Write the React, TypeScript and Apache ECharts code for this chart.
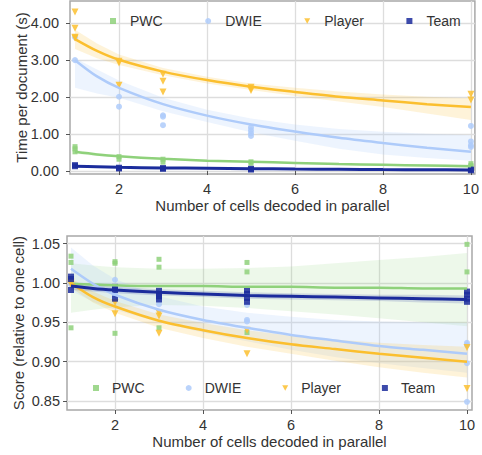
import React, { useEffect, useRef } from "react";
import * as echarts from "echarts";

const FONT = "'Liberation Sans', Arial, Helvetica, sans-serif";

const names = ["PWC", "DWIE", "Player", "Team"];
const colors = ["#8fd17b", "#aecbfa", "#fbbf2f", "#1b2c9c"];
const bandColors = [
  "rgba(143,209,123,0.16)",
  "rgba(174,203,250,0.22)",
  "rgba(251,191,47,0.18)",
  "rgba(27,44,156,0.16)",
];
const legendIcons = ["rect", "circle", "path://M0,0 L10,0 L5,9 Z", "rect"];

const xTicks = [2, 4, 6, 8, 10];
const topYTicks = [0, 1, 2, 3, 4];
const bottomYTicks = [0.85, 0.9, 0.95, 1.0, 1.05];

const ptsX = [1, 2, 3, 5, 10];
const fitX = [1, 1.5, 2, 3, 4, 5, 6, 7, 8, 9, 10];

// ---- Top panel: time per document ----
const topPwcPts = [[0.66, 0.6, 0.52], [0.39, 0.32], [0.32, 0.24], [0.25, 0.21], [0.2, 0.15, 0.12]];
const topDwiePts = [[3.62, 3.0], [2.01, 1.74], [1.51, 1.47, 1.24], [1.18, 1.1, 1.02, 0.95], [1.22, 0.8, 0.7, 0.65]];
const topPlayerPts = [[4.3, 3.86, 3.62, 3.6], [2.97, 2.92, 2.32], [2.62, 2.43, 2.14], [2.27, 2.22, 2.18], [2.08, 1.92]];
const topTeamPts = [[0.16, 0.13], [0.09, 0.07], [0.08, 0.06], [0.06, 0.04], [0.04, 0.02]];

const topPwcFit = [0.52, 0.45, 0.4, 0.33, 0.28, 0.25, 0.22, 0.19, 0.17, 0.15, 0.13];
const topPwcHi = [0.57, 0.49, 0.43, 0.355, 0.305, 0.275, 0.245, 0.22, 0.2, 0.185, 0.17];
const topPwcLo = [0.47, 0.41, 0.37, 0.305, 0.255, 0.225, 0.195, 0.16, 0.14, 0.115, 0.09];
const topDwieFit = [3.0, 2.56, 2.25, 1.81, 1.5, 1.26, 1.07, 0.9, 0.76, 0.63, 0.52];
const topDwieHi = [3.05, 2.75, 2.45, 1.98, 1.66, 1.42, 1.26, 1.14, 1.06, 1.01, 0.97];
const topDwieLo = [2.25, 2.1, 1.98, 1.62, 1.33, 1.05, 0.82, 0.6, 0.45, 0.35, 0.28];
const topPlayerFit = [3.57, 3.25, 3.01, 2.69, 2.46, 2.28, 2.14, 2.01, 1.91, 1.81, 1.73];
const topPlayerHi = [3.82, 3.45, 3.15, 2.79, 2.55, 2.37, 2.25, 2.15, 2.07, 2.01, 1.97];
const topPlayerLo = [3.3, 3.05, 2.87, 2.59, 2.37, 2.19, 2.03, 1.88, 1.73, 1.56, 1.38];
const topTeamFit = [0.13, 0.115, 0.1, 0.085, 0.075, 0.065, 0.055, 0.048, 0.04, 0.035, 0.03];
const topTeamHi = [0.15, 0.13, 0.113, 0.097, 0.087, 0.077, 0.068, 0.062, 0.055, 0.051, 0.048];
const topTeamLo = [0.11, 0.1, 0.087, 0.073, 0.063, 0.053, 0.042, 0.034, 0.025, 0.019, 0.012];

// ---- Bottom panel: relative score ----
const botPwcPts = [[1.034, 1.026, 0.943], [1.027, 1.025, 0.936], [1.03, 1.02, 0.943], [1.026, 1.014, 0.937], [1.049, 1.014]];
const botDwiePts = [[1.003, 0.998], [1.004, 0.985], [0.98, 0.973], [0.972, 0.953, 0.951], [0.924, 0.921, 0.898, 0.849]];
const botPlayerPts = [[1.001, 0.998], [0.975, 0.961], [0.962, 0.958, 0.936], [0.94, 0.91], [0.918, 0.866]];
const botTeamPts = [[1.008, 1.005, 0.991], [0.995, 0.991, 0.98], [0.99, 0.986, 0.983, 0.979], [0.991, 0.986, 0.981, 0.976], [0.989, 0.985, 0.98, 0.976]];

const botPwcFit = [0.999, 0.998, 0.997, 0.996, 0.996, 0.995, 0.995, 0.994, 0.994, 0.993, 0.993];
const botPwcHi = [1.025, 1.022, 1.02, 1.018, 1.018, 1.019, 1.021, 1.025, 1.029, 1.033, 1.038];
const botPwcLo = [0.962, 0.966, 0.969, 0.972, 0.971, 0.968, 0.964, 0.96, 0.955, 0.95, 0.945];
const botDwieFit = [1.018, 0.999, 0.985, 0.966, 0.953, 0.943, 0.934, 0.927, 0.92, 0.915, 0.91];
const botDwieHi = [1.045, 1.022, 1.005, 0.983, 0.97, 0.962, 0.957, 0.953, 0.951, 0.95, 0.949];
const botDwieLo = [0.99, 0.976, 0.966, 0.95, 0.937, 0.926, 0.915, 0.906, 0.898, 0.892, 0.886];
const botPlayerFit = [1.0, 0.982, 0.97, 0.952, 0.94, 0.93, 0.922, 0.916, 0.91, 0.905, 0.9];
const botPlayerHi = [1.006, 0.989, 0.977, 0.96, 0.949, 0.94, 0.933, 0.928, 0.924, 0.921, 0.919];
const botPlayerLo = [0.994, 0.975, 0.962, 0.943, 0.93, 0.919, 0.91, 0.901, 0.893, 0.886, 0.88];
const botTeamFit = [0.996, 0.993, 0.991, 0.988, 0.986, 0.984, 0.983, 0.982, 0.981, 0.98, 0.979];
const botTeamHi = [1.001, 0.997, 0.995, 0.992, 0.99, 0.988, 0.987, 0.986, 0.985, 0.985, 0.984];
const botTeamLo = [0.991, 0.989, 0.987, 0.984, 0.982, 0.98, 0.979, 0.978, 0.977, 0.975, 0.974];

const symbols = ["rect", "circle", "triangle", "rect"];
const symbolSizes = [5, 6, 7, 6];
const symbolRot = [0, 0, 180, 0];

function flatten(pts: number[][]) {
  const out: number[][] = [];
  pts.forEach((ys, i) => ys.forEach((y) => out.push([ptsX[i], y])));
  return out;
}

function zip(ys: number[]) {
  return fitX.map((x, i) => [x, ys[i]]);
}

function bandSeries(idx: number, gi: number, lo: number[], hi: number[]) {
  return {
    type: "custom",
    name: names[idx] + " band " + gi,
    xAxisIndex: gi,
    yAxisIndex: gi,
    silent: true,
    z: 1,
    data: [[fitX[0], lo[0]]],
    renderItem: (_params: any, api: any) => {
      const pts: number[][] = [];
      for (let i = 0; i < fitX.length; i++) pts.push(api.coord([fitX[i], hi[i]]));
      for (let i = fitX.length - 1; i >= 0; i--) pts.push(api.coord([fitX[i], lo[i]]));
      return {
        type: "polygon",
        shape: { points: pts },
        style: { fill: bandColors[idx], stroke: "none" },
      };
    },
  };
}

function scatterSeries(idx: number, gi: number, pts: number[][]) {
  return {
    type: "scatter",
    name: names[idx],
    xAxisIndex: gi,
    yAxisIndex: gi,
    symbol: symbols[idx],
    symbolSize: symbolSizes[idx],
    symbolRotate: symbolRot[idx],
    itemStyle: { color: colors[idx], opacity: 0.85 },
    z: 2,
    data: flatten(pts),
  };
}

function fitSeries(idx: number, gi: number, ys: number[]) {
  return {
    type: "line",
    name: names[idx] + " fit " + gi,
    xAxisIndex: gi,
    yAxisIndex: gi,
    showSymbol: false,
    symbol: "none",
    smooth: 0.3,
    lineStyle: { color: colors[idx], width: idx === 3 ? 3 : 2.5 },
    z: 3 + idx * 0.1,
    silent: true,
    data: zip(ys),
  };
}

const axisLabelStyle = { color: "#333", fontSize: 14.5, fontFamily: FONT };
const nameStyle = { color: "#333", fontSize: 15, fontFamily: FONT };

function xAxis(gi: number, min: number, max: number) {
  return {
    type: "value",
    gridIndex: gi,
    min,
    max,
    name: "Number of cells decoded in parallel",
    nameLocation: "middle",
    nameGap: 24,
    nameMoveOverlap: false,
    nameTextStyle: nameStyle,
    axisLine: { show: false },
    axisTick: { show: true, length: 4, customValues: xTicks, lineStyle: { color: "#555", width: 1 } },
    axisLabel: { ...axisLabelStyle, margin: 7, customValues: xTicks, formatter: (v: number) => String(v) },
    splitLine: { show: true, lineStyle: { color: "#dddddd", width: 1.3 } },
  };
}

function yAxis(gi: number, min: number, max: number, ticks: number[], name: string, gap: number, margin: number) {
  return {
    type: "value",
    gridIndex: gi,
    min,
    max,
    name,
    nameLocation: "middle",
    nameGap: gap,
    nameMoveOverlap: false,
    nameTextStyle: nameStyle,
    axisLine: { show: false },
    axisTick: { show: true, length: 4, customValues: ticks, lineStyle: { color: "#555", width: 1 } },
    axisLabel: { ...axisLabelStyle, margin, customValues: ticks, formatter: (v: number) => v.toFixed(2) },
    splitLine: { show: true, lineStyle: { color: "#dddddd", width: 1.3 } },
  };
}

function legend(left: number, top: number, pad: number, gap: number) {
  return {
    left,
    top,
    padding: 0,
    orient: "horizontal",
    itemWidth: 6,
    itemHeight: 6,
    itemGap: gap,
    data: names.map((n, i) => ({ name: n, icon: legendIcons[i], itemStyle: { color: colors[i], opacity: 0.85 } })),
    selectedMode: false,
    textStyle: { color: "#333", fontSize: 14, fontFamily: FONT, padding: [0, 0, 0, pad] },
  };
}

export default function App() {
  const ref = useRef<HTMLDivElement>(null);
  useEffect(() => {
    if (!ref.current) return;
    const chart = echarts.init(ref.current, null, { renderer: "svg" });
    const topPts = [topPwcPts, topDwiePts, topPlayerPts, topTeamPts];
    const topFit = [topPwcFit, topDwieFit, topPlayerFit, topTeamFit];
    const topHi = [topPwcHi, topDwieHi, topPlayerHi, topTeamHi];
    const topLo = [topPwcLo, topDwieLo, topPlayerLo, topTeamLo];
    const botPts = [botPwcPts, botDwiePts, botPlayerPts, botTeamPts];
    const botFit = [botPwcFit, botDwieFit, botPlayerFit, botTeamFit];
    const botHi = [botPwcHi, botDwieHi, botPlayerHi, botTeamHi];
    const botLo = [botPwcLo, botDwieLo, botPlayerLo, botTeamLo];

    const series: any[] = [];
    for (let i = 0; i < 4; i++) {
      series.push(bandSeries(i, 0, topLo[i], topHi[i]));
      series.push(bandSeries(i, 1, botLo[i], botHi[i]));
    }
    for (let i = 0; i < 4; i++) {
      series.push(scatterSeries(i, 0, topPts[i]));
      series.push(scatterSeries(i, 1, botPts[i]));
    }
    for (let i = 0; i < 4; i++) {
      series.push(fitSeries(i, 0, topFit[i]));
      series.push(fitSeries(i, 1, botFit[i]));
    }

    chart.setOption({
      animation: false,
      backgroundColor: "#ffffff",
      textStyle: { fontFamily: FONT },
      grid: [
        { left: 70, top: 1, width: 405, height: 173, show: true, borderColor: "#a8a8a8", borderWidth: 1.5, backgroundColor: "#fff" },
        { left: 67, top: 236, width: 405, height: 174, show: true, borderColor: "#a8a8a8", borderWidth: 1.5, backgroundColor: "#fff" },
      ],
      xAxis: [xAxis(0, 0.886, 10.09), xAxis(1, 0.909, 10.114)],
      yAxis: [
        yAxis(0, -0.08, 4.6, topYTicks, "Time per document (s)", 41, 11),
        yAxis(1, 0.8386, 1.0596, bottomYTicks, "Score (relative to one cell)", 41, 7),
      ],
      legend: [legend(110, 14, 9, 42.5), legend(93, 381, 8, 41)],
      series,
    });
    return () => chart.dispose();
  }, []);
  return (
    <div
      ref={ref}
      style={{ position: "fixed", left: 0, top: 0, width: 482, height: 455, background: "#fff" }}
    />
  );
}
